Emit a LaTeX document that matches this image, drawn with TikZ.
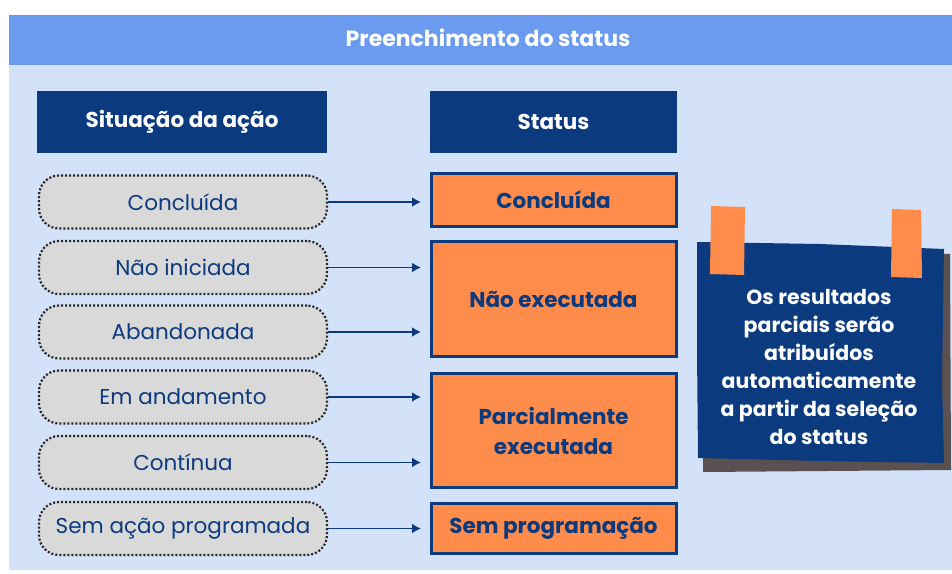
\documentclass[tikz,border=0pt]{standalone}
\usepackage{fontspec}
\setmainfont{Poppins}
\usetikzlibrary{arrows.meta}
\definecolor{panel}{HTML}{D3E2F8}
\definecolor{headbar}{HTML}{6A9BEE}
\definecolor{navy}{HTML}{0B3A7E}
\definecolor{pillfill}{HTML}{D9D9D9}
\definecolor{orng}{HTML}{FF8C4A}
\definecolor{shadowc}{HTML}{5A5050}
\tikzset{
  headbox/.style={fill=navy, text=white, font=\fontsize{21.5}{24}\selectfont\bfseries, minimum width=290pt, minimum height=62pt, inner sep=0pt},
  pill/.style={draw=black!85, line width=2.2pt, dash pattern=on 2pt off 2pt, fill=pillfill, rounded corners=20pt, minimum width=288pt, minimum height=53pt, text=navy, font=\fontsize{21.5}{24}\selectfont, inner sep=0pt},
  statbox/.style={draw=navy, line width=3pt, fill=orng, text=navy, font=\fontsize{21.5}{30}\selectfont\bfseries, minimum width=245pt, inner sep=0pt, align=center},
  conn/.style={-{Latex[length=9pt,width=10pt]}, draw=navy, line width=1.8pt},
}
\begin{document}
\begin{tikzpicture}[x=1pt,y=-1pt]
\useasboundingbox (0,0) rectangle (952,573);
\fill[white] (0,0) rectangle (952,573);
\fill[panel] (9,15) rectangle (952,570);
\fill[headbar] (9,15) rectangle (952,65);
\node[text=white, font=\fontsize{22}{24}\selectfont\bfseries] (title) at (488,38) {Preenchimento do status};
\node[headbox] (h1) at (182,122) {Situação da ação};
\node[headbox, minimum width=247pt] (h2) at (553.5,122) {Status};
% pills
\node[pill] (p1) at (183,202) {Concluída};
\node[pill] (p2) at (183,267.5) {Não iniciada};
\node[pill] (p3) at (183,332) {Abandonada};
\node[pill] (p4) at (183,397) {Em andamento};
\node[pill] (p5) at (183,462.5) {Contínua};
\node[pill] (p6) at (183,528.5) {Sem ação programada};
% status
\node[statbox, minimum height=53pt] (s1) at (553.5,200) {Concluída};
\node[statbox, minimum height=115pt] (s2) at (553.5,299) {Não executada};
\node[statbox, minimum height=114pt] (s3) at (553.5,430.5) {Parcialmente\\executada};
\node[statbox, minimum height=50pt] (s4) at (553.5,528.5) {Sem programação};
% connectors
\coordinate (tx) at (421,0);
\draw[conn] (p1.east) -- (p1.east -| tx);
\draw[conn] (p2.east) -- (p2.east -| tx);
\draw[conn] (p3.east) -- (p3.east -| tx);
\draw[conn] (p4.east) -- (p4.east -| tx);
\draw[conn] (p5.east) -- (p5.east -| tx);
\draw[conn] (p6.east) -- (p6.east -| tx);
% note
\fill[shadowc] (703,250) -- (950,254) -- (951,470) -- (703,472) -- cycle;
\fill[navy] (697,242) -- (820,244) -- (944,249) -- (942,380) -- (944,463) -- (820,461) -- (698,458) -- (697,350) -- cycle;
\fill[orng] (711,206) -- (745,207) -- (744,275) -- (710,274) -- cycle;
\fill[orng] (892,209) -- (921,210) -- (922,278) -- (891,277) -- cycle;
\node[text=white, font=\fontsize{20.5}{28}\selectfont\bfseries, align=center] (note) at (819,367) {Os resultados\\parciais serão\\atribuídos\\automaticamente\\a partir da seleção\\do status};
\end{tikzpicture}
\end{document}
